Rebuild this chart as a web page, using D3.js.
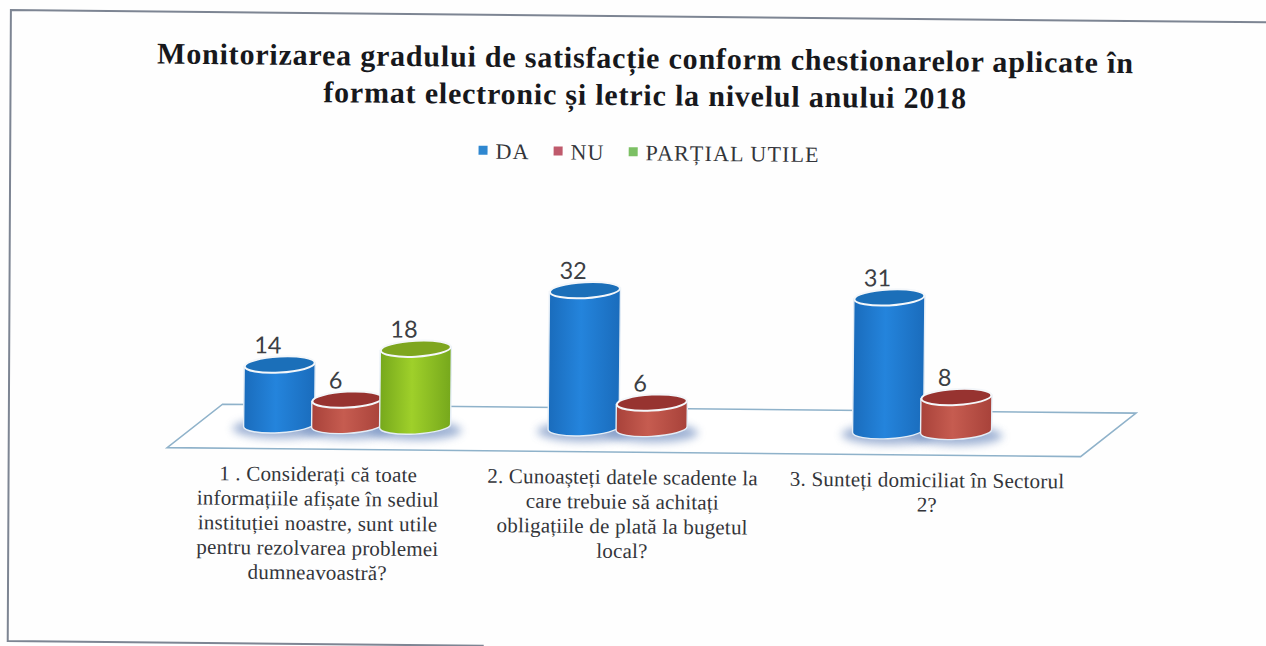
<!DOCTYPE html>
<html lang="ro">
<head>
<meta charset="utf-8">
<title>Monitorizarea gradului de satisfacție</title>
<script src="https://cdn.jsdelivr.net/npm/d3@7/dist/d3.min.js"></script>
<style>
  html, body { margin: 0; padding: 0; background: #fefefe; overflow: hidden; }
  svg { display: block; }
</style>
</head>
<body>
<script>
// Survey answers per question
const titleLines = [
  "Monitorizarea gradului de satisfacție conform chestionarelor aplicate în",
  "format electronic și letric la nivelul anului 2018"
];
const questions = ["Q1", "Q2", "Q3"];
const questionLabels = [
  ["1 . Considerați că toate", "informațiile afișate în sediul", "instituției noastre, sunt utile", "pentru rezolvarea problemei", "dumneavoastră?"],
  ["2. Cunoașteți datele scadente la", "care trebuie să achitați", "obligațiile de plată la bugetul", "local?"],
  ["3. Sunteți domiciliat în Sectorul", "2?"]
];
const seriesNames = ["DA", "NU", "PARȚIAL UTILE"];
const daValues = [14, 32, 31];
const nuValues = [6, 6, 8];
const partialValues = [18, null, null];
const seriesValues = [daValues, nuValues, partialValues];

// Colours for each series: cylinder edge, cylinder centre, lid, legend swatch
const palette = [
  { edge: "#1a6cbc", mid: "#2484dc", lid: "#1b6fb9", swatch: "#2f87d0" },
  { edge: "#a8423a", mid: "#c65c50", lid: "#973330", swatch: "#bf5a6c" },
  { edge: "#76a81c", mid: "#9fd02a", lid: "#7ea61f", swatch: "#7cc064" }
];

const width = 1266, height = 646;
const serif = "'Liberation Serif', 'Times New Roman', serif";

const svg = d3.select("body").append("svg")
  .attr("width", width).attr("height", height);

const defs = svg.append("defs");
palette.forEach((c, i) => {
  const g = defs.append("linearGradient").attr("id", "body-" + i)
    .attr("x1", 0).attr("x2", 1).attr("y1", 0).attr("y2", 0);
  g.append("stop").attr("offset", "0%").attr("stop-color", c.edge);
  g.append("stop").attr("offset", "45%").attr("stop-color", c.mid);
  g.append("stop").attr("offset", "100%").attr("stop-color", c.edge);
});
defs.append("filter").attr("id", "soft")
  .attr("x", "-30%").attr("y", "-60%").attr("width", "160%").attr("height", "220%")
  .append("feGaussianBlur").attr("stdDeviation", 4);

svg.append("rect").attr("width", width).attr("height", height).attr("fill", "#fefefe");

// The whole sheet sits very slightly tilted
const page = svg.append("g").attr("transform", "rotate(0.56)");

// Frame: left edge leans a little less than the sheet; the top runs off the page
page.append("path")
  .attr("d", "M1400,10L11,10L14,641L490,641")
  .attr("fill", "none").attr("stroke", "#7d8593").attr("stroke-width", 2);

// Title
page.append("g").selectAll("text").data(titleLines).join("text")
  .attr("x", 646)
  .attr("y", (d, i) => 62 + i * 37)
  .attr("text-anchor", "middle")
  .attr("font-family", serif)
  .attr("font-weight", "bold")
  .attr("font-size", 30)
  .attr("letter-spacing", 0.8)
  .attr("fill", "#17181c")
  .text(d => d);

// Scales
const baseline = 422, plotTop = 271.5;
const x = d3.scaleBand().domain(questions).range([199, 1112.5]);
const xSeries = d3.scaleBand().domain(seriesNames).range([-102, 102]);
const y = d3.scaleLinear().domain([0, 35]).range([baseline, plotTop]);

// Floor of the 3D plot area
const skew = 27.5, floorBack = 402, floorFront = 446;
const [x0, x1] = x.range();
page.append("path")
  .attr("d", d3.line()([
    [x0 + skew, floorBack], [x1 + skew, floorBack],
    [x1 - skew, floorFront], [x0 - skew, floorFront]
  ]) + "Z")
  .attr("fill", "#ffffff")
  .attr("stroke", "#8fb2ca")
  .attr("stroke-width", 1.6);

// One record per drawn cylinder, in painting order
const bars = questions.flatMap((q, qi) =>
  seriesNames.map((s, si) => ({ q, s, si, value: seriesValues[si][qi] }))
).filter(d => d.value !== null);

const radius = 35.5, lidRy = 8;
const cx = d => x(d.q) + x.bandwidth() / 2 + xSeries(d.s) + xSeries.bandwidth() / 2;

// Soft pool of shadow under the cylinders
page.append("g").selectAll("ellipse").data(bars).join("ellipse")
  .attr("cx", cx)
  .attr("cy", y(0) + 4)
  .attr("rx", radius + 11)
  .attr("ry", lidRy + 2)
  .attr("fill", "#7f99c6")
  .attr("opacity", 0.75)
  .attr("filter", "url(#soft)");

const bar = page.append("g").selectAll("g").data(bars).join("g")
  .attr("transform", d => `translate(${cx(d)},0) skewY(-3.5)`);

bar.append("path")
  .attr("d", d => {
    const top = y(d.value), base = y(0);
    return `M${-radius},${top}L${-radius},${base}` +
      `A${radius},${lidRy} 0 0 0 ${radius},${base}L${radius},${top}Z`;
  })
  .attr("fill", d => `url(#body-${d.si})`)
  .attr("stroke", "#e4edf6")
  .attr("stroke-width", 1.4);

bar.append("ellipse")
  .attr("cx", 0)
  .attr("cy", d => y(d.value))
  .attr("rx", radius - 0.5)
  .attr("ry", lidRy)
  .attr("fill", d => palette[d.si].lid)
  .attr("stroke", "#f4f7fa")
  .attr("stroke-width", 2);

// Value labels, set up and to the left of each lid
page.append("g").selectAll("text").data(bars).join("text")
  .attr("x", d => cx(d) - 12)
  .attr("y", d => y(d.value) - 11)
  .attr("text-anchor", "middle")
  .attr("font-family", "Lato, 'Open Sans', sans-serif")
  .attr("font-size", 23.5)
  .attr("fill", "#3c3f44")
  .text(d => d.value);

// Question labels under the front edge of the floor
const labelGroups = page.append("g").selectAll("g").data(questions).join("g");
labelGroups.each(function (q, qi) {
  d3.select(this).selectAll("text").data(questionLabels[qi]).join("text")
    .attr("x", x(q) + x.bandwidth() / 2 - skew - 1)
    .attr("y", (d, i) => 478 + i * 24.6)
    .attr("text-anchor", "middle")
    .attr("font-family", serif)
    .attr("font-size", 21)
    .attr("letter-spacing", 0.2)
    .attr("fill", "#33353a")
    .text(d => d);
});

// Legend, laid out left to right from the measured text widths
const legend = page.append("g");
let cursor = 480;
seriesNames.forEach((name, i) => {
  const item = legend.append("g");
  item.append("rect")
    .attr("x", cursor).attr("y", 141)
    .attr("width", 9).attr("height", 9)
    .attr("fill", palette[i].swatch);
  const label = item.append("text")
    .attr("x", cursor + 17).attr("y", 154)
    .attr("font-family", serif)
    .attr("font-size", 22)
    .attr("letter-spacing", 1.15)
    .attr("fill", "#33353a")
    .text(name);
  cursor += 17 + label.node().getComputedTextLength() + 24;
});
</script>
</body>
</html>
